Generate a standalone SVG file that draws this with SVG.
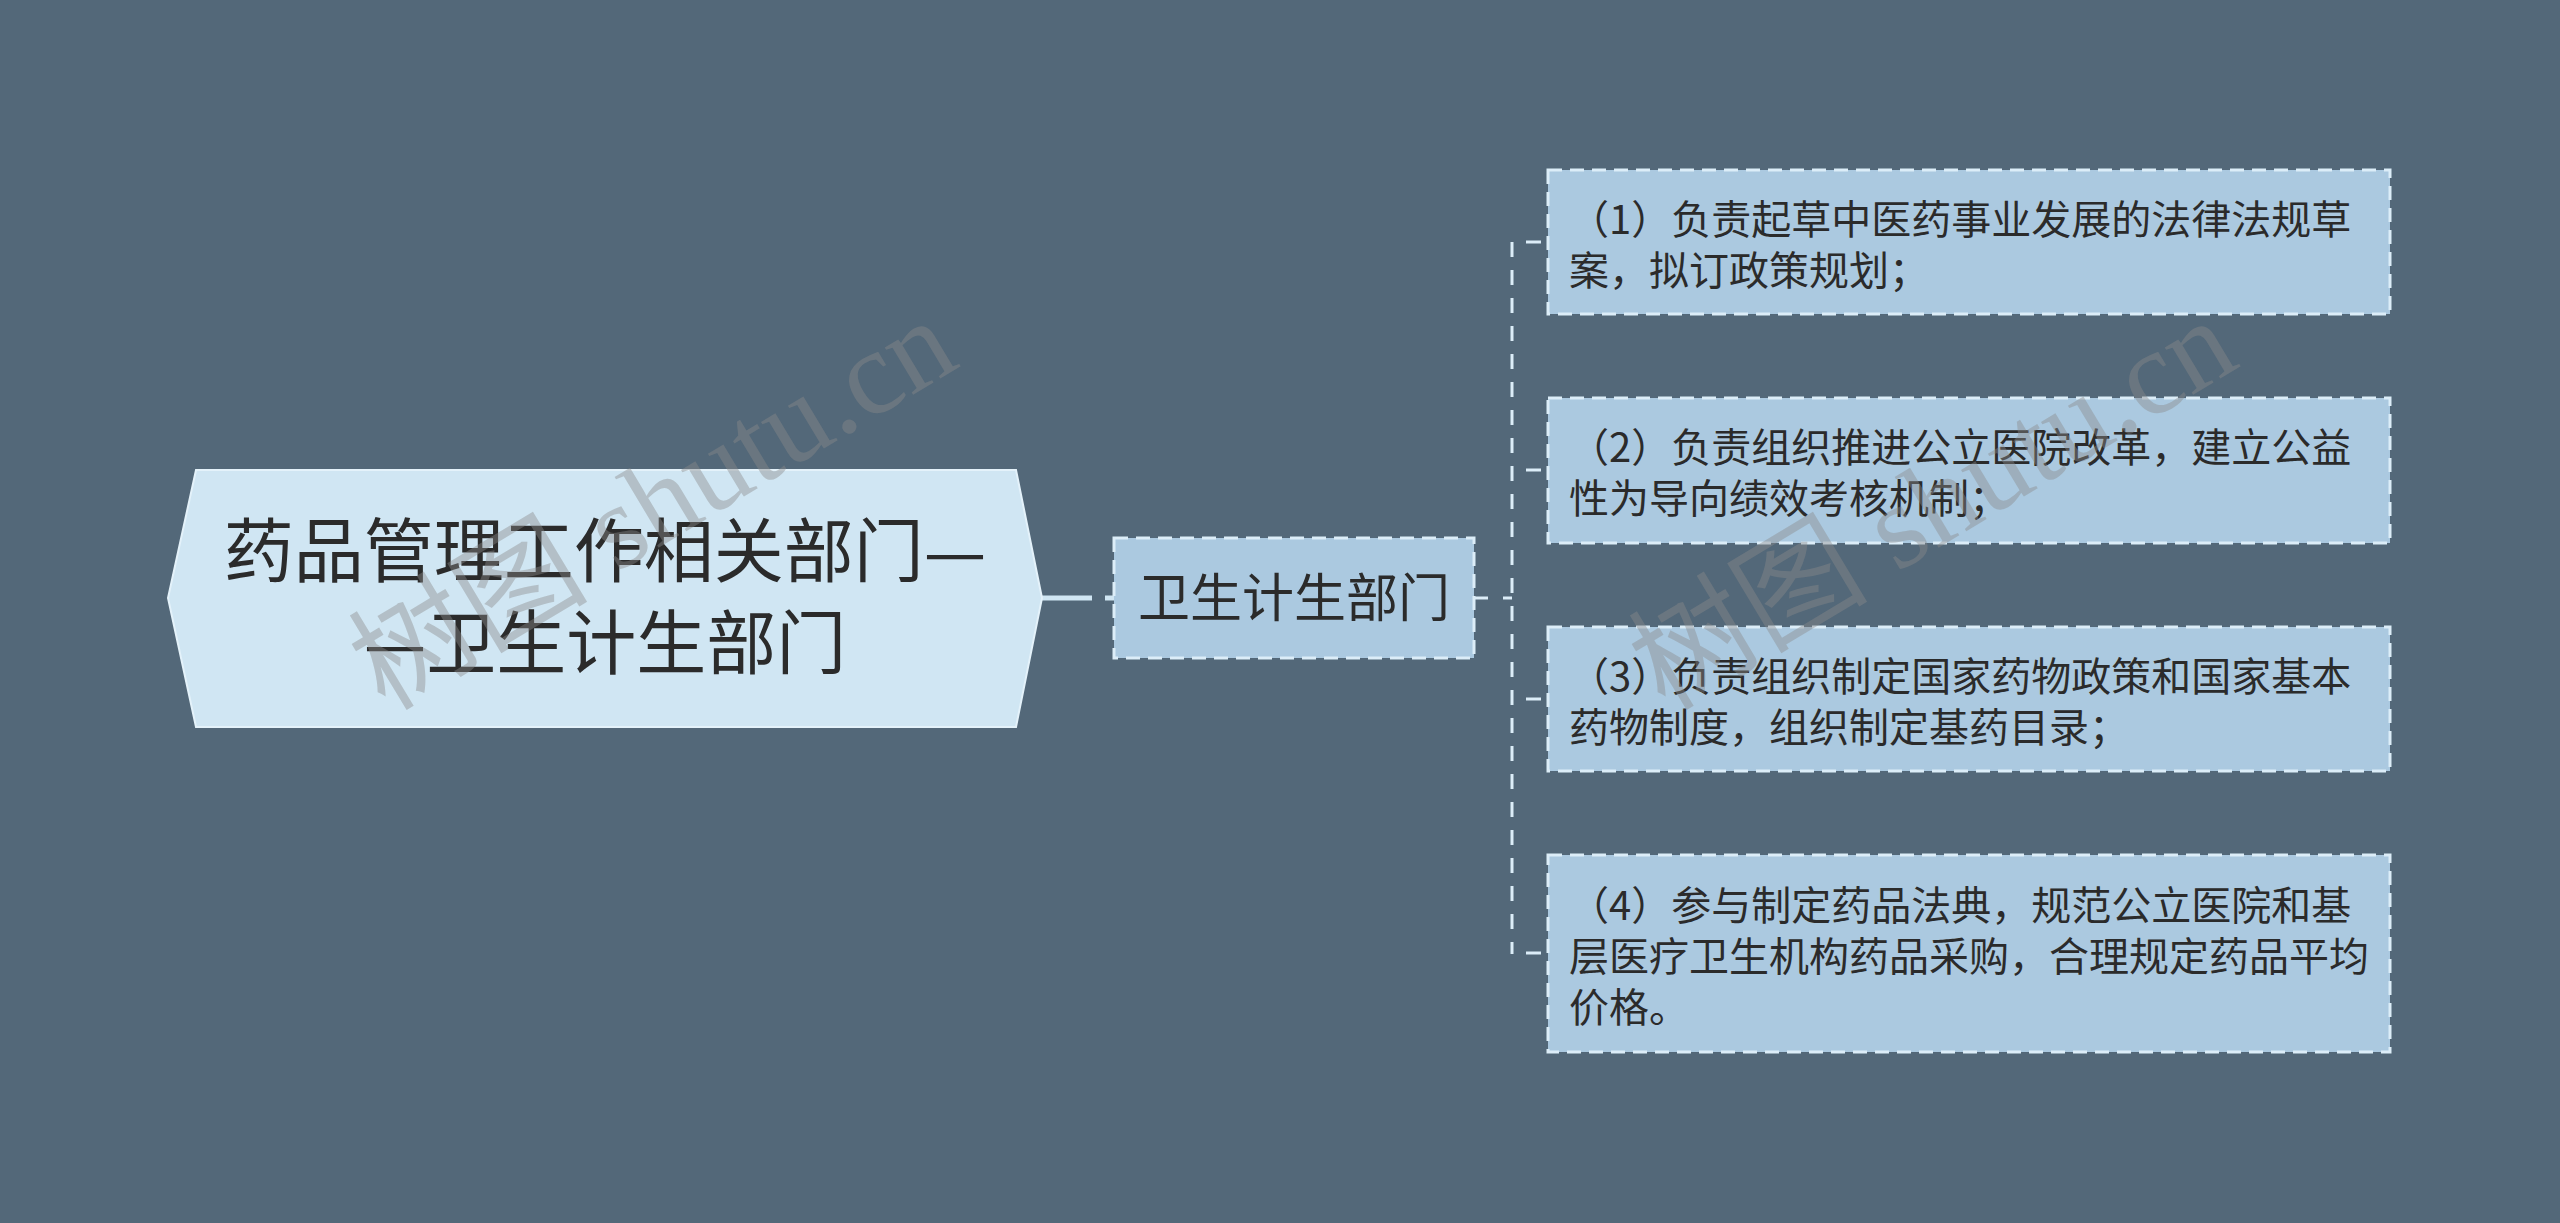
<svg xmlns="http://www.w3.org/2000/svg" width="2560" height="1223" viewBox="0 0 2560 1223">
<style>
.bg{fill:#536879}
.root{fill:#d0e6f3;stroke:#e4f2fa;stroke-width:2}
.sub{fill:#abc9e0;stroke:#dcedf8;stroke-width:3;stroke-dasharray:14 8}
.t{font-family:"Noto Sans CJK SC","Noto Sans",sans-serif;fill:#2b2b2b}
.rt{font-size:70px;text-anchor:middle}
.st{font-size:52px;text-anchor:middle}
.ct{font-size:40px}
.c{stroke:#dcedf8;stroke-width:3;fill:none}
.cd{stroke-dasharray:15 13}
.rc{stroke:#d0e6f3;stroke-width:5}
.wm{font-family:"Liberation Serif","Noto Sans CJK SC",serif;font-size:120px;fill:#8a8a8a;fill-opacity:0.42}
</style>
<rect class="bg" x="0" y="0" width="2560" height="1223"/>
<g id="connectors">
<line class="rc" x1="1040" y1="598" x2="1092" y2="598"/>
<line class="rc" x1="1105" y1="598" x2="1114" y2="598"/>
<line class="c" x1="1475" y1="598" x2="1488" y2="598"/>
<line class="c" x1="1503" y1="598" x2="1512" y2="598"/>
<line class="c cd" x1="1512" y1="242" x2="1512" y2="954"/>
<line class="c" x1="1526" y1="242" x2="1541" y2="242"/>
<line class="c" x1="1526" y1="470" x2="1541" y2="470"/>
<line class="c" x1="1526" y1="699" x2="1541" y2="699"/>
<line class="c" x1="1526" y1="953" x2="1541" y2="953"/>
</g>
<g id="root">
<polygon class="root" points="168,598 196,470 1016,470 1042,598 1016,727 196,727"/>
<text class="t rt" x="605" y="577">药品管理工作相关部门—</text>
<text class="t rt" x="605" y="669">—卫生计生部门</text>
</g>
<g id="n-weisheng">
<rect class="sub" x="1114" y="538" width="360" height="120"/>
<text class="t st" x="1294" y="617">卫生计生部门</text>
</g>
<g id="c1">
<rect class="sub" x="1548" y="170" width="842" height="144"/>
<text class="t ct" x="1569" y="234">（1）负责起草中医药事业发展的法律法规草</text>
<text class="t ct" x="1569" y="285">案，拟订政策规划；</text>
</g>
<g id="c2">
<rect class="sub" x="1548" y="398" width="842" height="145"/>
<text class="t ct" x="1569" y="462">（2）负责组织推进公立医院改革，建立公益</text>
<text class="t ct" x="1569" y="513">性为导向绩效考核机制；</text>
</g>
<g id="c3">
<rect class="sub" x="1548" y="627" width="842" height="144"/>
<text class="t ct" x="1569" y="691">（3）负责组织制定国家药物政策和国家基本</text>
<text class="t ct" x="1569" y="742">药物制度，组织制定基药目录；</text>
</g>
<g id="c4">
<rect class="sub" x="1548" y="855" width="842" height="197"/>
<text class="t ct" x="1569" y="920">（4）参与制定药品法典，规范公立医院和基</text>
<text class="t ct" x="1569" y="971">层医疗卫生机构药品采购，合理规定药品平均</text>
<text class="t ct" x="1569" y="1022">价格。</text>
</g>
<g id="watermarks">
<text class="wm" transform="translate(385,712) rotate(-31)">树图 shutu.cn</text>
<text class="wm" transform="translate(1665,712) rotate(-31)">树图 shutu.cn</text>
</g>
</svg>
